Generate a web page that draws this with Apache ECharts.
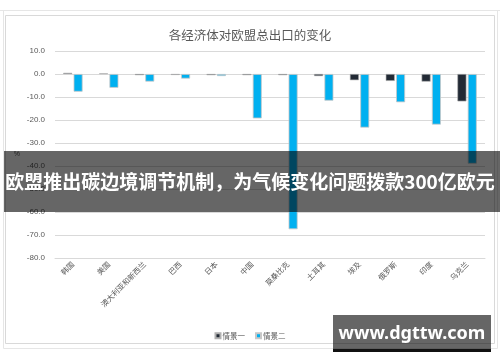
<!DOCTYPE html>
<html>
<head>
<meta charset="utf-8">
<script src="https://cdn.jsdelivr.net/npm/echarts@6/dist/echarts.min.js"></script>
<style>html,body{margin:0;padding:0;background:#fff;}#c{width:500px;height:362px;}</style>
</head>
<body>
<div id="c"></div>
<script>
const titleText = '各经济体对欧盟总出口的变化';
const categories = ['韩国','美国','澳大利亚和新西兰','巴西','日本','中国','莫桑比克','土耳其','埃及','俄罗斯','印度','乌克兰'];
const seriesNames = ['情景一','情景二'];
const scenario1 = [0.5, 0.3, -0.5, -0.4, -0.5, -0.5, -0.5, -0.9, -2.7, -3.0, -3.3, -11.9];
const scenario2 = [-7.7, -6.0, -3.3, -2.0, -0.9, -19.3, -67.5, -11.6, -23.3, -12.3, -22.0, -39.0];
const yMin = -80, yMax = 10, yStep = 10;
const bannerText = '欧盟推出碳边境调节机制，为气候变化问题拨款300亿欧元';
const watermarkText = 'www.dgttw.com';

const cjk = '"Noto Sans CJK SC", "Liberation Sans", sans-serif';
const chart = echarts.init(document.getElementById('c'), null, {renderer:'canvas'});
chart.setOption({
  animation: false,
  backgroundColor: '#fff',
  title: {
    text: titleText, left: 'center', top: 24,
    textStyle: {fontSize: 12.5, fontWeight: 'normal', color: '#595959', fontFamily: cjk}
  },
  legend: {
    data: seriesNames, left: 'center', top: 327,
    itemWidth: 5, itemHeight: 5, itemGap: 10,
    icon: 'rect',
    textStyle: {fontSize: 7.5, color: '#595959', fontFamily: cjk, padding:[0,0,0,-3]}
  },
  grid: {left: 55, right: 15, top: 51, bottom: 104},
  xAxis: {
    type: 'category', data: categories, position: 'bottom',
    axisLine: {onZero: false, lineStyle: {color: '#d9d9d9'}},
    axisTick: {show: false},
    axisLabel: {rotate: 45, fontSize: 7.5, color: '#595959', margin: 5, fontFamily: cjk, interval: 0}
  },
  yAxis: {
    type: 'value', min: yMin, max: yMax, interval: yStep,
    name: '%', nameLocation: 'middle', nameRotate: 0, nameGap: 35,
    nameTextStyle: {fontSize: 7, color: '#595959'},
    axisLine: {show: false}, axisTick: {show: false},
    axisLabel: {fontSize: 8, color: '#595959', margin: 10, formatter: v => v.toFixed(1), fontFamily: '"Liberation Sans", sans-serif'},
    splitLine: {lineStyle: {color: '#d9d9d9'}}
  },
  series: [
    {name: seriesNames[0], type: 'bar', data: scenario1, barWidth: 9, barGap: '15%',
     itemStyle: {color: '#222a35', borderColor: '#b0b0b0', borderWidth: 0.6}},
    {name: seriesNames[1], type: 'bar', data: scenario2, barWidth: 9,
     itemStyle: {color: '#00b0f0', borderColor: '#c8c8c8', borderWidth: 0.8}}
  ],
  graphic: [
    {type: 'line', shape: {x1: 0, y1: 10.5, x2: 500, y2: 10.5}, style: {stroke: '#e6e6e6', lineWidth: 1}, z: 1},
    {type: 'rect', shape: {x: 3.5, y: 10.5, width: 494, height: 338}, style: {fill: 'none', stroke: '#e6e6e6', lineWidth: 1}, z: 1},
    {type: 'rect', shape: {x: 5.5, y: 15.5, width: 489, height: 328}, style: {fill: 'none', stroke: '#d9d9d9', lineWidth: 1}, z: 1},
    {type: 'rect', shape: {x: 4, y: 151, width: 496, height: 61}, style: {fill: 'rgba(0,0,0,0.6)'}, z: 100},
    {type: 'text', x: 250, y: 182, z: 101,
     style: {text: bannerText, fill: '#fff', fontSize: 19, fontWeight: 'bold', fontFamily: cjk, align: 'center', verticalAlign: 'middle'}},
    {type: 'rect', shape: {x: 333, y: 315, width: 158, height: 35}, style: {fill: 'rgba(0,0,0,0.6)'}, z: 100},
    {type: 'rect', shape: {x: 333, y: 349, width: 158, height: 3}, style: {fill: '#111'}, z: 100},
    {type: 'text', x: 412, y: 334, z: 101,
     style: {text: watermarkText, fill: '#fff', fontSize: 18, fontWeight: 'bold', fontFamily: '"Noto Sans", "Liberation Sans", sans-serif', align: 'center', verticalAlign: 'middle'}}
  ]
});
</script>
</body>
</html>
